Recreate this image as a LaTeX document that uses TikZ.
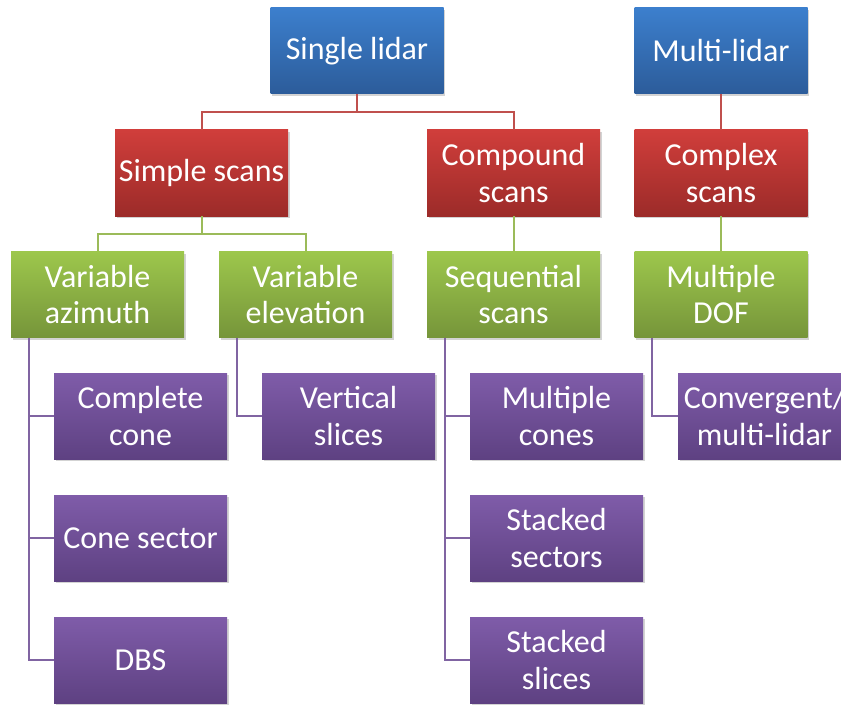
\documentclass[tikz,border=0pt]{standalone}
\usepackage{fontspec}
\setmainfont{Carlito}
\usetikzlibrary{shadows}
\definecolor{bluetop}{HTML}{3C7FCD}
\definecolor{bluebot}{HTML}{2C5C9A}
\definecolor{redtop}{HTML}{D03E3B}
\definecolor{redbot}{HTML}{9C2B29}
\definecolor{greentop}{HTML}{9DC74C}
\definecolor{greenbot}{HTML}{76953A}
\definecolor{purptop}{HTML}{7F5CA9}
\definecolor{purpbot}{HTML}{5E4182}
\definecolor{redline}{HTML}{C0504D}
\definecolor{greenline}{HTML}{9BBB59}
\definecolor{purpline}{HTML}{8064A2}
\tikzset{
  box/.style={minimum width=173pt, minimum height=86pt, inner sep=0pt, align=center,
    text=white, font=\fontsize{32}{36.5}\selectfont,
    drop shadow={opacity=0.35, shadow xshift=1.5pt, shadow yshift=-2pt}},
  bluebox/.style={box, top color=bluetop, bottom color=bluebot},
  redbox/.style={box, top color=redtop, bottom color=redbot},
  greenbox/.style={box, top color=greentop, bottom color=greenbot},
  purpbox/.style={box, top color=purptop, bottom color=purpbot},
  rline/.style={draw=redline, line width=2pt},
  gline/.style={draw=greenline, line width=2pt},
  pline/.style={draw=purpline, line width=2pt},
}
\begin{document}
\begin{tikzpicture}[x=1pt, y=-1pt]
\useasboundingbox (0,0) rectangle (841,706);
\coordinate (c1) at (357,112);
\coordinate (c2) at (201.5,234);
\node[bluebox] (single) at (357,51) {Single lidar};
\node[bluebox] (multi) at (721,51) {Multi-lidar};
\node[redbox] (simple) at (201.5,173) {Simple scans};
\node[redbox] (compound) at (513.5,173) {Compound\\scans};
\node[redbox] (complex) at (721,173) {Complex\\scans};
\node[greenbox] (varaz) at (97.5,294.5) {Variable\\azimuth};
\node[greenbox] (varel) at (305.5,294.5) {Variable\\elevation};
\node[greenbox] (seq) at (513.5,294.5) {Sequential\\scans};
\node[greenbox] (mdof) at (721,294.5) {Multiple\\DOF};
\node[purpbox] (ccone) at (140.5,416) {Complete\\cone};
\node[purpbox] (vslices) at (348.5,416) {Vertical\\slices};
\node[purpbox] (mcones) at (556.5,416) {Multiple\\cones};
\node[purpbox] (conv) at (764.5,416) {Convergent/\\multi-lidar};
\node[purpbox] (csector) at (140.5,538) {Cone sector};
\node[purpbox] (ssectors) at (556.5,538) {Stacked\\sectors};
\node[purpbox] (dbs) at (140.5,660) {DBS};
\node[purpbox] (sslices) at (556.5,660) {Stacked\\slices};
% red connectors
\draw[rline] (single.south) -- (c1 -| single.south) -| (simple.north);
\draw[rline] (c1 -| single.south) -| (compound.north);
\draw[rline] (multi.south) -- (complex.north);
% green connectors
\draw[gline] (simple.south) -- (c2 -| simple.south) -| (varaz.north);
\draw[gline] (c2 -| simple.south) -| (varel.north);
\draw[gline] (compound.south) -- (seq.north);
\draw[gline] (complex.south) -- (mdof.north);
% purple connectors
\draw[pline] ([xshift=18pt]varaz.south west) |- (ccone.west);
\draw[pline] ([xshift=18pt]varaz.south west) |- (csector.west);
\draw[pline] ([xshift=18pt]varaz.south west) |- (dbs.west);
\draw[pline] ([xshift=18pt]varel.south west) |- (vslices.west);
\draw[pline] ([xshift=18pt]seq.south west) |- (mcones.west);
\draw[pline] ([xshift=18pt]seq.south west) |- (ssectors.west);
\draw[pline] ([xshift=18pt]seq.south west) |- (sslices.west);
\draw[pline] ([xshift=18pt]mdof.south west) |- (conv.west);
\end{tikzpicture}
\end{document}
